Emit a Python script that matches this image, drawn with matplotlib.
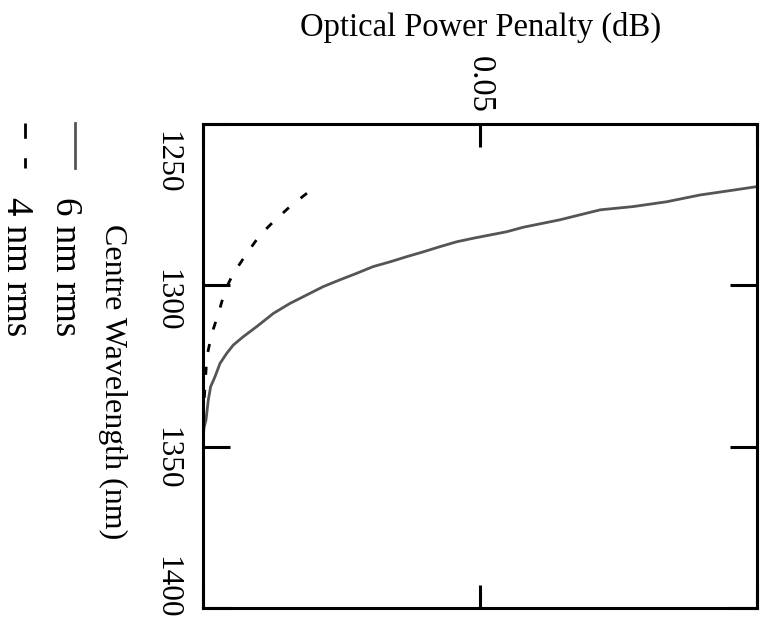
import matplotlib
matplotlib.use("Agg")
import matplotlib.pyplot as plt
from matplotlib.lines import Line2D

plt.rcParams['font.family'] = ['Liberation Serif', 'DejaVu Serif']

# 6 nm rms source (solid grey)
wl_6nm = [1354.0, 1347.0, 1344.0, 1341.7, 1335.5, 1331.4, 1328.3, 1324.2, 1321.1,
          1318.5, 1315.9, 1312.8, 1308.7, 1305.6, 1303.0, 1300.4, 1298.3, 1296.3,
          1294.2, 1292.7, 1291.1, 1289.6, 1288.0, 1286.5, 1285.4, 1284.4, 1283.4,
          1282.0, 1279.7, 1276.6, 1275.6, 1274.1, 1272.0, 1270.5, 1269.4]
pen_6nm = [0.0, 0.0, 0.0002, 0.00054, 0.00096, 0.00138, 0.00217, 0.00307, 0.00427,
           0.00547, 0.00728, 0.00969, 0.0127, 0.0157, 0.0187, 0.0217, 0.0247, 0.0277,
           0.0307, 0.0338, 0.0368, 0.0398, 0.0428, 0.0458, 0.0488, 0.0518, 0.0548,
           0.0578, 0.0644, 0.0717, 0.0776, 0.0837, 0.0897, 0.0957, 0.1000]

# 4 nm rms source (dashed black)
wl_4nm = [1342.0, 1338.6, 1330.4, 1322.1, 1314.9, 1308.7, 1301.4, 1296.3, 1290.1,
          1284.4, 1280.3, 1275.6, 1269.9]
pen_4nm = [0.0, 0.0001, 0.0004, 0.0007, 0.0016, 0.0028, 0.0040, 0.0055, 0.0079,
           0.0103, 0.0127, 0.0157, 0.0199]

wl_ticks = [1250, 1300, 1350, 1400]
wl_label_pos = [1261.8, 1304.5, 1353.5, 1393.5]

W, H = 767, 626
fig = plt.figure(figsize=(W / 100, H / 100), dpi=100)
ax = fig.add_axes([203 / W, 1 - 608 / H, 554 / W, 484 / H])

ax.plot(pen_6nm, wl_6nm, color='#555555', lw=2.0)
ax.plot(pen_4nm, wl_4nm, color='black', lw=2.0, dashes=(2.9, 5.4))

ax.set_xlim(0, 0.1)
ax.set_ylim(1400, 1250)

for s in ax.spines.values():
    s.set_linewidth(2.2)

ax.set_xticks([0, 0.05, 0.1])
ax.set_xticklabels(['', '0.05', ''])
ax.tick_params(axis='x', direction='in', length=16.5, width=2.2,
               top=True, bottom=True, labeltop=True, labelbottom=False,
               labelsize=23.5, labelrotation=-90, pad=8)
ax.set_yticks(wl_ticks)
ax.set_yticklabels([])
ax.tick_params(axis='y', direction='in', length=19.5, width=2.2,
               left=True, right=True)

# wavelength labels, rotated with the chart
for pos, t in zip(wl_label_pos, wl_ticks):
    ax.text((167 - 203) / 554, pos, str(t), transform=ax.get_yaxis_transform(),
            rotation=-90, ha='center', va='center', fontsize=22.5)

fig.text(481 / W, 1 - 27 / H, 'Optical Power Penalty (dB)', ha='center', va='center',
         fontsize=23.5)
fig.text(113 / W, 1 - 382 / H, 'Centre Wavelength (nm)', ha='center', va='center',
         rotation=-90, fontsize=23)

# legend drawn by hand
fig.add_artist(Line2D([75 / W, 75 / W], [1 - 123 / H, 1 - 168 / H], color='#555555', lw=2.0))
fig.add_artist(Line2D([25 / W, 25 / W], [1 - 123 / H, 1 - 168 / H], color='black', lw=2.0,
                      dashes=(5.5, 7)))
fig.text(65 / W, 1 - 197 / H, '6 nm rms', ha='center', va='top', rotation=-90, fontsize=26.5)
fig.text(16 / W, 1 - 197 / H, '4 nm rms', ha='center', va='top', rotation=-90, fontsize=26.5)

fig.savefig('out.png', dpi=100)
